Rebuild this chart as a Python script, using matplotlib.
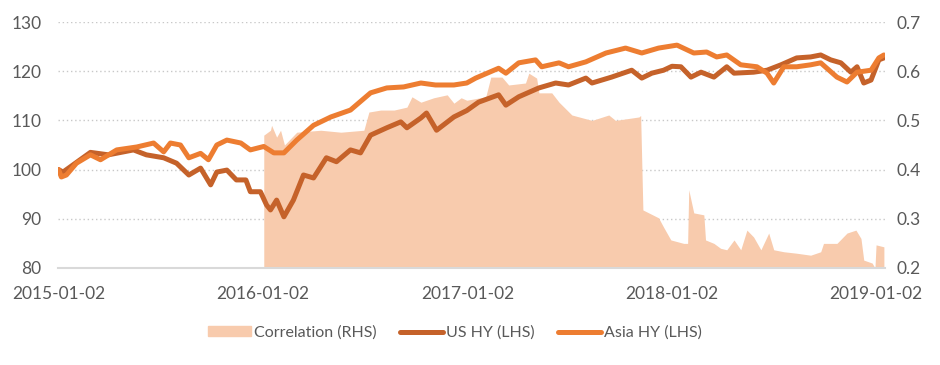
import matplotlib.pyplot as plt
import matplotlib.dates as mdates
from matplotlib.patches import Patch
from matplotlib.lines import Line2D
import numpy as np
import pandas as pd

plt.rcParams['font.family'] = ['Lato', 'DejaVu Sans']

# Asia HY index (LHS)
asia_dates = ['2015-01-02', '2015-01-07', '2015-01-16', '2015-02-03', '2015-02-28', '2015-03-18',
              '2015-04-16', '2015-05-22', '2015-06-21', '2015-07-09', '2015-07-21', '2015-08-08',
              '2015-08-23', '2015-09-13', '2015-09-27', '2015-10-12', '2015-10-30', '2015-11-24',
              '2015-12-11', '2016-01-04', '2016-01-22', '2016-02-09', '2016-03-03', '2016-04-02',
              '2016-05-03', '2016-06-07', '2016-07-13', '2016-08-11', '2016-09-10', '2016-10-11',
              '2016-11-06', '2016-12-09', '2017-01-01', '2017-01-17', '2017-02-27', '2017-03-12',
              '2017-04-04', '2017-05-04', '2017-05-15', '2017-06-15', '2017-07-02', '2017-08-02',
              '2017-09-07', '2017-10-12', '2017-11-10', '2017-12-10', '2018-01-12', '2018-02-11',
              '2018-03-06', '2018-03-24', '2018-04-11', '2018-05-06', '2018-06-04', '2018-06-22',
              '2018-07-04', '2018-07-22', '2018-08-14', '2018-09-08', '2018-09-26', '2018-10-25',
              '2018-11-12', '2018-11-30', '2018-12-25', '2019-01-08', '2019-01-17']
asia_hy = [100.0, 98.5, 98.9, 101.3, 103.0, 102.0,
           104.0, 104.6, 105.4, 103.6, 105.4, 105.0,
           102.4, 103.3, 102.0, 105.0, 106.0, 105.4,
           104.0, 104.7, 103.4, 103.4, 106.0, 109.0,
           110.7, 112.1, 115.6, 116.6, 116.8, 117.6,
           117.2, 117.2, 117.6, 118.6, 120.6, 119.6,
           121.7, 122.3, 120.9, 121.7, 120.9, 121.9,
           123.7, 124.7, 123.7, 124.7, 125.3, 123.7,
           123.9, 122.9, 123.3, 121.3, 120.9, 119.6,
           117.6, 120.9, 120.9, 121.3, 121.7, 118.8,
           117.8, 119.8, 120.2, 122.7, 123.3]

# US HY index (LHS)
us_dates = ['2015-01-02', '2015-01-10', '2015-02-28', '2015-04-01', '2015-05-16', '2015-06-08',
            '2015-07-09', '2015-08-01', '2015-08-23', '2015-09-13', '2015-10-01', '2015-10-12',
            '2015-10-30', '2015-11-16', '2015-12-03', '2015-12-11', '2015-12-29', '2016-01-09',
            '2016-01-16', '2016-01-27', '2016-02-09', '2016-02-26', '2016-03-15', '2016-04-02',
            '2016-04-25', '2016-05-13', '2016-06-07', '2016-06-25', '2016-07-13', '2016-08-11',
            '2016-09-05', '2016-09-16', '2016-10-11', '2016-10-21', '2016-11-08', '2016-12-09',
            '2017-01-01', '2017-01-22', '2017-02-27', '2017-03-12', '2017-04-04', '2017-05-10',
            '2017-06-09', '2017-07-02', '2017-08-02', '2017-08-13', '2017-09-17', '2017-10-23',
            '2017-11-10', '2017-11-28', '2017-12-19', '2018-01-03', '2018-01-19', '2018-02-06',
            '2018-02-24', '2018-03-19', '2018-04-11', '2018-04-24', '2018-05-29', '2018-06-22',
            '2018-07-17', '2018-08-14', '2018-09-08', '2018-09-26', '2018-10-14', '2018-11-01',
            '2018-11-19', '2018-11-30', '2018-12-12', '2018-12-25', '2019-01-08', '2019-01-17']
us_hy = [100.0, 99.5, 103.5, 103.0, 104.0, 103.0,
         102.4, 101.3, 98.9, 100.3, 96.9, 99.5,
         99.9, 97.9, 97.9, 95.5, 95.5, 92.8,
         91.8, 93.8, 90.4, 93.8, 98.9, 98.3,
         102.4, 101.6, 104.0, 103.4, 107.0, 108.5,
         109.7, 108.5, 110.5, 111.5, 108.0, 110.7,
         112.0, 113.7, 115.2, 113.1, 114.8, 116.6,
         117.6, 117.2, 118.6, 117.6, 118.8, 120.2,
         118.6, 119.6, 120.2, 121.0, 120.9, 118.8,
         119.8, 118.8, 120.9, 119.6, 119.8, 120.2,
         121.3, 122.7, 122.9, 123.3, 122.3, 121.7,
         119.8, 120.9, 117.6, 118.2, 122.3, 122.7]

# correlation (RHS)
corr_dates = ['2016-01-04', '2016-01-16', '2016-01-18', '2016-01-27', '2016-02-03', '2016-02-10',
              '2016-03-03', '2016-04-15', '2016-05-21', '2016-07-01', '2016-07-10', '2016-07-31',
              '2016-08-24', '2016-09-16', '2016-09-25', '2016-10-11', '2016-11-03', '2016-11-27',
              '2016-12-09', '2016-12-22', '2017-01-01', '2017-02-04', '2017-02-13', '2017-03-05',
              '2017-03-17', '2017-04-16', '2017-04-22', '2017-05-06', '2017-05-10', '2017-06-02',
              '2017-06-15', '2017-07-08', '2017-08-13', '2017-09-12', '2017-09-24', '2017-11-05',
              '2017-11-08', '2017-11-12', '2017-12-10', '2017-12-19', '2018-01-01', '2018-01-24',
              '2018-01-31', '2018-02-02', '2018-02-11', '2018-03-01', '2018-03-04', '2018-03-19',
              '2018-03-31', '2018-04-11', '2018-04-24', '2018-05-06', '2018-05-17', '2018-05-29',
              '2018-06-11', '2018-06-25', '2018-07-04', '2018-07-22', '2018-08-14', '2018-09-08',
              '2018-09-26', '2018-10-01', '2018-10-25', '2018-11-12', '2018-11-28', '2018-12-07',
              '2018-12-12', '2018-12-27', '2019-01-01', '2019-01-03', '2019-01-17']
corr = [0.470, 0.480, 0.490, 0.466, 0.480, 0.450,
        0.476, 0.480, 0.476, 0.480, 0.517, 0.521,
        0.521, 0.527, 0.548, 0.537, 0.546, 0.552,
        0.535, 0.546, 0.541, 0.548, 0.588, 0.588,
        0.572, 0.576, 0.596, 0.586, 0.556, 0.556,
        0.537, 0.511, 0.500, 0.511, 0.500, 0.507,
        0.510, 0.318, 0.302, 0.283, 0.257, 0.250,
        0.250, 0.359, 0.312, 0.308, 0.257, 0.250,
        0.240, 0.237, 0.257, 0.237, 0.277, 0.263,
        0.237, 0.271, 0.237, 0.233, 0.230, 0.226,
        0.233, 0.250, 0.250, 0.271, 0.277, 0.260,
        0.216, 0.210, 0.200, 0.247, 0.243]

tick_dates = ['2015-01-02', '2016-01-02', '2017-01-02', '2018-01-02', '2019-01-02']

fig = plt.figure(figsize=(9.4, 3.65), dpi=100)
ax2 = fig.add_axes([0.0617, 0.2658, 0.8798, 0.6739])
ax = ax2.twinx()
ax.yaxis.tick_left()
ax2.yaxis.tick_right()

cd = pd.to_datetime(corr_dates)
ax2.fill_between(cd, 0.2, corr, color='#F8CBAD', lw=0, zorder=2)
ax2.set_ylim(0.2, 0.7)
ax2.set_yticks(np.arange(0.2, 0.71, 0.1))
ax2.set_yticklabels(['0.2', '0.3', '0.4', '0.5', '0.6', '0.7'])
ax2.grid(axis='y', color='#C8C8C8', ls=(0, (1, 2)), lw=1, zorder=0)
ax2.set_axisbelow(True)

ax.plot(pd.to_datetime(us_dates), us_hy, color='#C5622A', lw=3.6, solid_capstyle='round', solid_joinstyle='round')
ax.plot(pd.to_datetime(asia_dates), asia_hy, color='#ED7D31', lw=3.6, solid_capstyle='round', solid_joinstyle='round')
ax.set_ylim(80, 130)
ax.set_yticks(range(80, 131, 10))

ax.set_xlim(pd.Timestamp('2015-01-01'), pd.Timestamp('2019-01-19'))
ax2.set_xticks(pd.to_datetime(tick_dates))
ax2.xaxis.set_major_formatter(mdates.DateFormatter('%Y-%m-%d'))

for a in (ax, ax2):
    for s in a.spines.values():
        s.set_visible(False)
    a.tick_params(length=0, labelsize=12.5, colors='#595959')
ax.spines['bottom'].set_visible(True)
ax.spines['bottom'].set_color('#D9D9D9')
ax.spines['bottom'].set_linewidth(1.5)
ax2.tick_params(axis='x', pad=13)
ax2.tick_params(axis='y', pad=8)
ax.tick_params(axis='y', pad=12)

handles = [Patch(color='#F8CBAD'),
           Line2D([], [], color='#C5622A', lw=3.6, solid_capstyle='round'),
           Line2D([], [], color='#ED7D31', lw=3.6, solid_capstyle='round')]
labels = ['Correlation (RHS)', 'US HY (LHS)', 'Asia HY (LHS)']
fig.legend(handles, labels, loc='center', bbox_to_anchor=(0.484, 0.088), ncol=3, frameon=False,
           fontsize=11.5, labelcolor='#595959', handlelength=2.7, handleheight=0.6,
           handletextpad=0.15, columnspacing=1.5)

fig.savefig('out.png', dpi=100)
